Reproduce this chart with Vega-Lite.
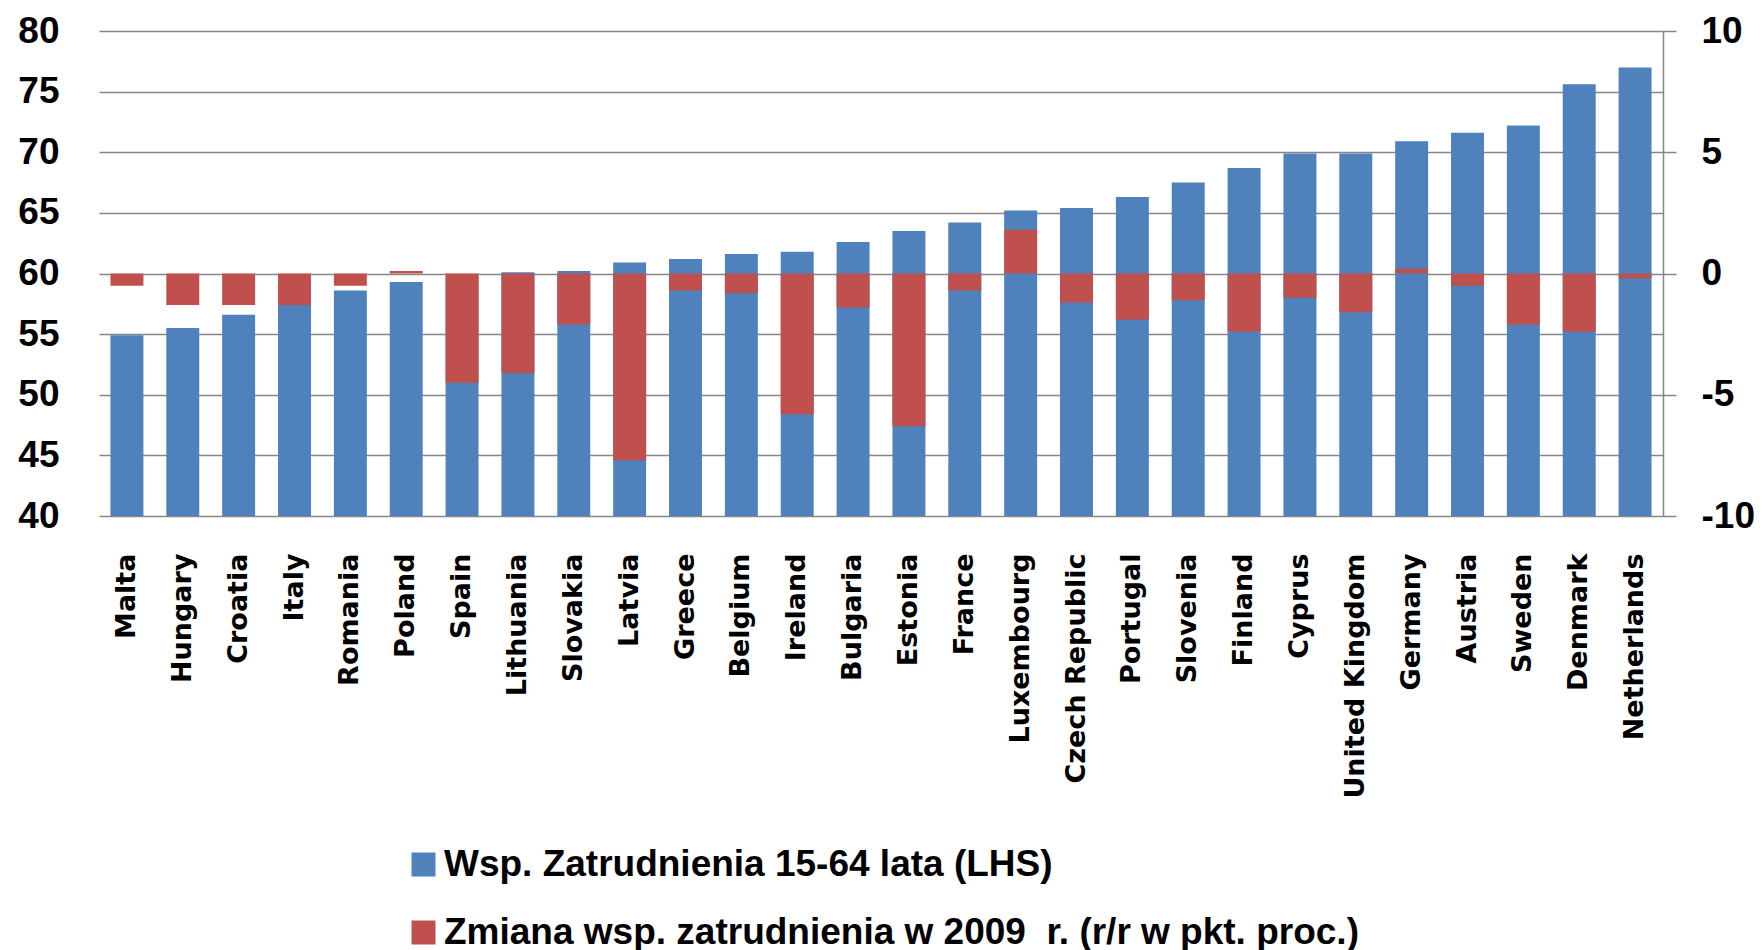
{
  "$schema": "https://vega.github.io/schema/vega-lite/v6.json",
  "width": 1564,
  "height": 485,
  "autosize": {"type": "none"},
  "padding": {"left": 99, "top": 31, "right": 99, "bottom": 434},
  "background": "white",
  "config": {"view": {"stroke": null}},
  "data": {
    "values": [
      {"country": "Malta", "rate": 54.9, "change": -0.5},
      {"country": "Hungary", "rate": 55.5, "change": -1.3},
      {"country": "Croatia", "rate": 56.6, "change": -1.3},
      {"country": "Italy", "rate": 57.5, "change": -1.3},
      {"country": "Romania", "rate": 58.6, "change": -0.5},
      {"country": "Poland", "rate": 59.3, "change": 0.1},
      {"country": "Spain", "rate": 59.8, "change": -4.5},
      {"country": "Lithuania", "rate": 60.1, "change": -4.1},
      {"country": "Slovakia", "rate": 60.2, "change": -2.1},
      {"country": "Latvia", "rate": 60.9, "change": -7.7},
      {"country": "Greece", "rate": 61.2, "change": -0.7},
      {"country": "Belgium", "rate": 61.6, "change": -0.8},
      {"country": "Ireland", "rate": 61.8, "change": -5.8},
      {"country": "Bulgaria", "rate": 62.6, "change": -1.4},
      {"country": "Estonia", "rate": 63.5, "change": -6.3},
      {"country": "France", "rate": 64.2, "change": -0.7},
      {"country": "Luxembourg", "rate": 65.2, "change": 1.8},
      {"country": "Czech Republic", "rate": 65.4, "change": -1.2},
      {"country": "Portugal", "rate": 66.3, "change": -1.9},
      {"country": "Slovenia", "rate": 67.5, "change": -1.1},
      {"country": "Finland", "rate": 68.7, "change": -2.4},
      {"country": "Cyprus", "rate": 69.9, "change": -1.0},
      {"country": "United Kingdom", "rate": 69.9, "change": -1.6},
      {"country": "Germany", "rate": 70.9, "change": 0.2},
      {"country": "Austria", "rate": 71.6, "change": -0.5},
      {"country": "Sweden", "rate": 72.2, "change": -2.1},
      {"country": "Denmark", "rate": 75.6, "change": -2.4},
      {"country": "Netherlands", "rate": 77.0, "change": -0.2}
    ]
  },
  "encoding": {
    "x": {
      "field": "country",
      "type": "nominal",
      "sort": null,
      "scale": {"paddingInner": 0.41, "paddingOuter": 0.205},
      "axis": {
        "title": null,
        "labelAngle": -90,
        "labelFont": "DejaVu Sans",
        "labelFontWeight": "bold",
        "labelFontSize": 27,
        "labelColor": "black",
        "ticks": false,
        "domain": false,
        "labelPadding": 37,
        "labelLimit": 0
      }
    }
  },
  "layer": [
    {
      "mark": {"type": "bar"},
      "encoding": {
        "y": {
          "field": "rate",
          "type": "quantitative",
          "scale": {"domain": [40, 80], "zero": false, "nice": false},
          "axis": {
            "orient": "left",
            "title": null,
            "values": [40, 45, 50, 55, 60, 65, 70, 75, 80],
            "grid": true,
            "gridColor": "#868686",
            "gridWidth": 1.5,
            "domain": false,
            "ticks": false,
            "labelFont": "Liberation Sans",
            "labelFontWeight": "bold",
            "labelFontSize": 37,
            "labelColor": "black",
            "labelPadding": 40
          }
        },
        "y2": {"datum": 40},
        "color": {
          "datum": "Wsp. Zatrudnienia 15-64 lata (LHS)",
          "type": "nominal",
          "scale": {
            "domain": ["Wsp. Zatrudnienia 15-64 lata (LHS)", "Zmiana wsp. zatrudnienia w 2009\u00a0 r. (r/r w pkt. proc.)"],
            "range": ["#4F81BD", "#C0504D"]
          },
          "legend": {
            "orient": "none",
            "legendX": 306,
            "legendY": 815,
            "direction": "vertical",
            "title": null,
            "symbolType": "square",
            "symbolSize": 576,
            "symbolStrokeWidth": 0,
            "symbolOpacity": 1,
            "labelFont": "Liberation Sans",
            "labelFontWeight": "bold",
            "labelFontSize": 37,
            "labelColor": "black",
            "labelOffset": 2,
            "rowPadding": 30,
            "labelLimit": 0,
            "padding": 0
          }
        }
      }
    },
    {
      "mark": {"type": "bar"},
      "encoding": {
        "y": {
          "field": "change",
          "type": "quantitative",
          "scale": {"domain": [-10, 10], "nice": false},
          "axis": {
            "orient": "right",
            "title": null,
            "values": [-10, -5, 0, 5, 10],
            "labelExpr": "datum.value < 0 ? '-' + abs(datum.value) : '' + datum.value",
            "grid": false,
            "domain": true,
            "domainColor": "#868686",
            "domainWidth": 1.5,
            "ticks": true,
            "tickSize": 13,
            "tickColor": "#868686",
            "tickWidth": 1.5,
            "labelFont": "Liberation Sans",
            "labelFontWeight": "bold",
            "labelFontSize": 37,
            "labelColor": "black",
            "labelPadding": 25
          }
        },
        "y2": {"datum": 0},
        "color": {"datum": "Zmiana wsp. zatrudnienia w 2009\u00a0 r. (r/r w pkt. proc.)", "type": "nominal"}
      }
    }
  ],
  "resolve": {"scale": {"y": "independent"}}
}
